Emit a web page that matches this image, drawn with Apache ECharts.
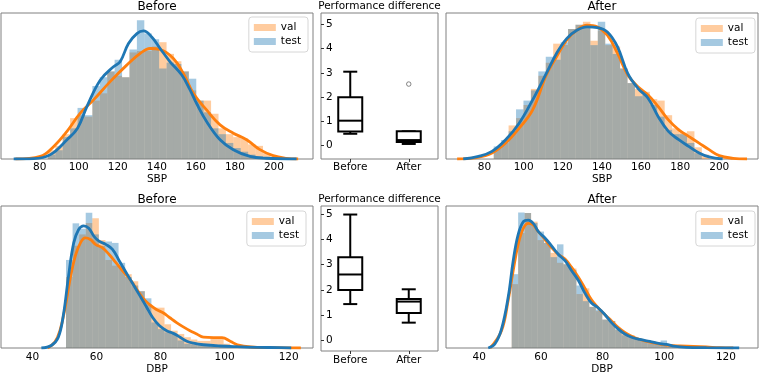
<!DOCTYPE html>
<html>
<head>
<meta charset="utf-8">
<script src="https://cdn.jsdelivr.net/npm/echarts/dist/echarts.min.js"></script>
<style>
  html, body { margin: 0; padding: 0; background: #fff; }
  #main { width: 760px; height: 376px; }
</style>
</head>
<body>
<div id="main"></div>
<script>
// histogram bins: start, width, heights (relative density, 100 = top of the frame)
const sbpBeforeBin = [84.2, 3.8];
const sbpBeforeVal = [6, 9, 17, 28, 30, 29, 40, 45, 60, 57, 56, 73, 74, 74, 77, 80, 72, 67, 60, 47, 40, 40, 31, 21, 17, 15, 14, 10, 9, 4];
const sbpBeforeTest = [3, 6, 15, 21, 35, 30, 50, 56, 60, 68, 56, 75, 95, 86, 82, 62, 66, 65, 60, 55, 40, 32, 21, 17, 11, 7.5, 5, 3, 2, 0];
const sbpBeforeValKde = [[67.6,0],[80.3,1.8],[87.2,8.6],[94,18.9],[100.8,31.4],[107.6,40.5],[116.1,53],[124.6,64.3],[131.5,72.3],[136.6,75.7],[141.7,75],[148.5,68.9],[153.6,58.6],[158.7,45],[165.5,33.6],[172.4,23.4],[179.2,17.7],[186,13.2],[192.8,6.4],[199.6,2.3],[206.4,0.5],[212.4,0]];
const sbpBeforeTestKde = [[66.7,0],[76.9,0.2],[85.5,3],[94,13.2],[99.4,21.1],[104.2,35.9],[111,54],[117.8,63.2],[121.2,66.6],[125.5,79.1],[129.8,85.9],[133.2,87.7],[137.4,83.6],[141.7,75.7],[146.8,66.6],[152.8,57.5],[156.9,47.7],[160.4,38],[165.5,25.7],[172.4,13.2],[179.2,6.4],[187.7,1.8],[196.2,0.5],[211.6,0]];

const sbpAfterBin = [84.7, 3.8];
const sbpAfterVal = [7, 11, 23, 28, 37, 48, 57, 66, 79, 78, 89, 92, 94, 81, 88, 78, 77, 62, 52, 48, 46, 41, 40, 30, 21, 18, 19, 8, 3];
const sbpAfterTest = [8.6, 13, 19, 34, 40, 47, 60, 70, 68, 80, 89, 92, 91, 78, 94, 79, 72, 62, 52, 43, 44, 37, 29, 20, 17, 17, 11, 4, 0];
const sbpAfterValKde = [[66,0],[76,1],[83.8,4.1],[90.8,10.9],[97.7,21.1],[104.6,33.6],[111.6,57.5],[116.8,70],[122,81.4],[127.2,88.2],[132.4,91.6],[137.6,90.5],[142.8,84.8],[148,72.3],[153.2,57.5],[158.4,49.5],[163.6,43.9],[168.8,35.9],[174,26.8],[179.3,20],[184.4,15.5],[189.7,10.9],[194.8,6.4],[200,2.3],[207,0.5],[214.2,0]];
const sbpAfterTestKde = [[69.1,0],[76.9,1.8],[83.8,5.2],[90.8,13.2],[97.7,24.5],[104.6,40.5],[111.6,58.6],[116.8,72.3],[122,82.5],[127.2,88.2],[132.4,90.5],[137.6,90],[142.8,87],[148,76.8],[153.2,58.6],[158.4,48.4],[163.6,41.6],[168.8,29],[174,18.9],[179.3,13.2],[184.4,8.6],[189.7,4.1],[194.8,1.4],[201.7,0]];

const dbpBeforeBin = [50.5, 2.05];
const dbpBeforeVal = [50, 72, 80, 88, 91.3, 76, 62, 58, 57, 52, 47, 40, 30.5, 28.4, 28.4, 16.7, 12.2, 9.9, 7.6, 6, 5, 5, 7, 7.5, 3, 1.5, 0.5];
const dbpBeforeTest = [62, 87.8, 84, 95.2, 80, 72, 75, 74, 60, 50, 44, 40, 35, 18, 13.3, 11, 9.9, 5.3, 3, 2.5, 2, 1.5, 1, 1, 0.8, 0.5, 0.3];
const dbpBeforeValKde = [[44.8,0],[47,4.1],[48.6,12.2],[50.2,28.2],[51.8,48.9],[53.4,64.9],[55,74],[56.5,77.5],[58.1,76.4],[59.7,73],[61.8,70.6],[63.9,66],[66,60.3],[68.1,54.6],[70.3,48.9],[72.4,42],[74.5,35.1],[76.6,30.5],[78.7,27.1],[80.8,24.8],[82.9,21.3],[85,17.9],[87.1,14.9],[89.2,12.2],[91.3,9.9],[93.4,7.6],[96.6,7.3],[99.2,7.3],[101.9,4.6],[104,2.3],[108.2,0.7],[114.5,0.2],[123.8,0]];
const dbpBeforeTestKde = [[42.8,0],[45.9,1.8],[48.1,7.6],[49.7,23.6],[51.3,51],[52.9,74],[54.4,83.3],[56,86],[57.6,84.4],[59.2,78.7],[60.8,75.2],[62.9,73],[65,69.5],[67.1,61.5],[69.2,53.4],[71.3,45.4],[73.4,37.4],[75.5,29.4],[77.6,21.3],[79.7,15.6],[81.9,12.2],[84,10.3],[86.1,7.6],[88.2,4.8],[90.3,3.4],[93.4,2.3],[98.7,1.4],[104,0.9],[110,0.5],[117.7,0.2],[120.8,0]];

const dbpAfterBin = [50.5, 2.1];
const dbpAfterVal = [45, 81, 95, 89, 76, 74, 67, 60, 59, 56, 38, 42, 29, 26, 20, 19, 13, 10, 9, 6.4, 5.3, 3.4, 3, 2.5, 1.5, 1.2, 1, 1, 0.8, 0.5, 0.3];
const dbpAfterTest = [52, 95.4, 95, 88, 82, 74, 64, 73, 59, 55, 44, 33, 29, 27, 20, 19, 13, 9, 8, 6.4, 5, 3.4, 3, 5.3, 1, 0.5, 0.4, 0.3, 0.3, 0, 0];
const dbpAfterValKde = [[43.5,0],[47.2,12.2],[49.4,34],[51,54.6],[52.6,72.9],[54.3,84.4],[55.9,87.8],[57.5,86.7],[59.1,82.1],[61.3,76.4],[63.5,70.6],[65.6,66],[67.8,62.6],[69.9,56.9],[72.1,50],[74.3,42],[76.4,33.9],[78.6,28.2],[80.7,23.6],[82.9,19],[85.1,14.4],[87.2,11],[89.4,8.3],[92.1,6],[95.3,4.1],[98.6,2.8],[101.8,1.8],[105.1,1.4],[109.4,1.1],[113.7,0.7],[118,0.2],[122.4,0]];
const dbpAfterTestKde = [[42.9,0],[45.1,3],[47.2,13.3],[49.4,36.2],[51,61.5],[52.6,79.8],[54.3,89],[55.9,90.1],[57.5,87.8],[59.1,82.1],[61.3,77.5],[63.5,71.8],[65.6,66],[67.8,61.5],[69.9,54.6],[72.1,47.7],[74.3,38.5],[76.4,31.7],[78.6,28.2],[80.7,23.6],[82.9,17.9],[85.1,13.3],[87.2,9.9],[89.4,7.6],[92.1,6],[95.3,4.6],[98.6,3],[100.7,2.5],[102.9,1.4],[107.2,0.5],[113.7,0.2],[124.3,0]];

// performance difference boxplots: [low, q1, median, q3, high]
const boxCategories = ["Before", "After"];
const sbpBoxBefore = [0.49, 0.58, 1.03, 2.0, 3.05];
const sbpBoxAfter = [0.07, 0.15, 0.23, 0.59, 0.59];
const sbpOutliers = [[1, 2.54]];
const dbpBoxBefore = [1.43, 1.99, 2.61, 3.30, 5.0];
const dbpBoxAfter = [0.69, 1.07, 1.53, 1.63, 2.02];
const dbpOutliers = [];

const ORANGE = "#ff7f0e", BLUE = "#1f77b4";
const FONT = "DejaVu Sans";

const chart = echarts.init(document.getElementById("main"));

function binsData(bin, heights) {
  const out = [];
  heights.forEach((h, i) => {
    if (h > 0) out.push([bin[0] + i * bin[1], bin[0] + (i + 1) * bin[1], h]);
  });
  return out;
}

function renderBin(params, api) {
  const p0 = api.coord([api.value(0), 0]);
  const p1 = api.coord([api.value(1), api.value(2)]);
  return {
    type: "rect",
    shape: { x: p0[0], y: p1[1], width: p1[0] - p0[0], height: p0[1] - p1[1] },
    style: { fill: api.visual("color") },
  };
}

function renderBox(params, api) {
  const x = api.coord([api.value(0), 0])[0];
  const y = (k) => api.coord([api.value(0), api.value(k)])[1];
  const lo = y(1), q1 = y(2), md = y(3), q3 = y(4), hi = y(5);
  const hw = 12, cw = 7;
  const st = { stroke: "#000", lineWidth: 2, fill: null };
  return {
    type: "group",
    children: [
      { type: "line", shape: { x1: x, y1: lo, x2: x, y2: q1 }, style: st },
      { type: "line", shape: { x1: x, y1: q3, x2: x, y2: hi }, style: st },
      { type: "line", shape: { x1: x - cw, y1: lo, x2: x + cw, y2: lo }, style: st },
      { type: "line", shape: { x1: x - cw, y1: hi, x2: x + cw, y2: hi }, style: st },
      { type: "rect", shape: { x: x - hw, y: q3, width: 2 * hw, height: q1 - q3 }, style: { stroke: "#000", lineWidth: 2, fill: "#fff" } },
      { type: "line", shape: { x1: x - hw, y1: md, x2: x + hw, y2: md }, style: st },
    ],
  };
}

const grids = [
  { left: 1, top: 13, width: 312, height: 146 },
  { left: 321, top: 13, width: 117, height: 146 },
  { left: 446, top: 13, width: 312, height: 146 },
  { left: 1, top: 206, width: 312, height: 145 },
  { left: 321, top: 206, width: 117, height: 145 },
  { left: 446, top: 206, width: 312, height: 145 },
].map((g) => Object.assign({ show: true, borderColor: "#808080", borderWidth: 1, backgroundColor: "transparent" }, g));

function histX(grid, min, max, name, split, margin, gap) {
  return {
    type: "value", gridIndex: grid, min: min, max: max, splitNumber: split,
    name: name, nameLocation: "middle", nameGap: gap,
    nameTextStyle: { fontSize: 10.5, color: "#000", fontFamily: FONT },
    axisLine: { show: false, onZero: false }, axisTick: { show: false }, splitLine: { show: false },
    axisLabel: { fontSize: 10.5, color: "#000", margin: margin, showMinLabel: false, showMaxLabel: false, fontFamily: FONT },
  };
}
function boxX(grid, margin) {
  return {
    type: "category", gridIndex: grid, data: boxCategories,
    axisLine: { show: false, onZero: false }, splitLine: { show: false },
    axisTick: { show: true, alignWithLabel: true, length: 3, lineStyle: { color: "#333" } },
    axisLabel: { fontSize: 10.5, color: "#000", margin: margin, fontFamily: FONT },
  };
}
function histY(grid) {
  return { type: "value", gridIndex: grid, min: 0, max: 100, show: false, splitLine: { show: false } };
}
function boxY(grid, min, max) {
  return {
    type: "value", gridIndex: grid, min: min, max: max, splitNumber: 6,
    axisLine: { show: false, onZero: false }, splitLine: { show: false },
    axisTick: { show: true, inside: true, length: 3, lineStyle: { color: "#333" } },
    axisLabel: { inside: true, margin: 5, fontSize: 10.5, color: "#000", showMinLabel: false, showMaxLabel: false, fontFamily: FONT },
  };
}

function histSeries(grid, bin, val, test, valKde, testKde) {
  const base = { xAxisIndex: grid, yAxisIndex: grid, silent: true };
  return [
    Object.assign({ type: "custom", name: "val", renderItem: renderBin, encode: { x: [0, 1], y: 2 },
      itemStyle: { color: "rgba(255,127,14,0.4)" }, data: binsData(bin, val) }, base),
    Object.assign({ type: "custom", name: "test", renderItem: renderBin, encode: { x: [0, 1], y: 2 },
      itemStyle: { color: "rgba(31,119,180,0.4)" }, data: binsData(bin, test) }, base),
    Object.assign({ type: "line", name: "val kde", data: valKde, smooth: 0.4, showSymbol: false,
      lineStyle: { color: ORANGE, width: 2.8 }, itemStyle: { color: ORANGE } }, base),
    Object.assign({ type: "line", name: "test kde", data: testKde, smooth: 0.4, showSymbol: false,
      lineStyle: { color: BLUE, width: 2.8 }, itemStyle: { color: BLUE } }, base),
  ];
}

function boxSeries(grid, before, after, outliers) {
  return [
    { type: "custom", name: "box", xAxisIndex: grid, yAxisIndex: grid, silent: true, renderItem: renderBox,
      encode: { x: 0, y: [1, 2, 3, 4, 5] }, data: [[0].concat(before), [1].concat(after)] },
    { type: "scatter", name: "outlier", xAxisIndex: grid, yAxisIndex: grid, silent: true, symbol: "circle", symbolSize: 4.5,
      itemStyle: { color: "#fff", borderColor: "#444", borderWidth: 0.8 }, data: outliers },
  ];
}

function legendAt(right, top) {
  return {
    right: right, top: top, orient: "vertical", selectedMode: false,
    icon: "rect", itemWidth: 22, itemHeight: 7, itemGap: 3,
    padding: [5, 7, 5, 5], borderColor: "#d6d6d6", borderWidth: 1, borderRadius: 3,
    backgroundColor: "rgba(255,255,255,0.8)",
    textStyle: { fontSize: 10.5, color: "#000", fontFamily: FONT },
    data: ["val", "test"],
  };
}

function titleAt(text, x, y, size) {
  return { text: text, left: x, top: y, textAlign: "center", padding: 0,
    textStyle: { fontSize: size, fontWeight: "normal", color: "#000", fontFamily: FONT } };
}

const option = {
  animation: false,
  textStyle: { fontFamily: FONT },
  title: [
    titleAt("Before", 157, 1, 12),
    titleAt("Performance difference", 379.5, 1, 10.5),
    titleAt("After", 602, 1, 12),
    titleAt("Before", 157, 193.5, 12),
    titleAt("Performance difference", 379.5, 194, 10.5),
    titleAt("After", 602, 193.5, 12),
  ],
  legend: [legendAt(452, 17), legendAt(5, 18), legendAt(454, 211), legendAt(5, 211)],
  grid: grids,
  xAxis: [
    histX(0, 60.2, 220, "SBP", 8, 3, 15),
    boxX(1, 3),
    histX(2, 60.3, 219.8, "SBP", 8, 3, 15),
    histX(3, 30.2, 127.6, "DBP", 5, 4, 16),
    boxX(4, 4),
    histX(5, 29.2, 130.4, "DBP", 5, 4, 16),
  ],
  yAxis: [
    histY(0),
    boxY(1, -0.55, 5.47),
    histY(2),
    histY(3),
    boxY(4, -0.44, 5.34),
    histY(5),
  ],
  series: [].concat(
    histSeries(0, sbpBeforeBin, sbpBeforeVal, sbpBeforeTest, sbpBeforeValKde, sbpBeforeTestKde),
    boxSeries(1, sbpBoxBefore, sbpBoxAfter, sbpOutliers),
    histSeries(2, sbpAfterBin, sbpAfterVal, sbpAfterTest, sbpAfterValKde, sbpAfterTestKde),
    histSeries(3, dbpBeforeBin, dbpBeforeVal, dbpBeforeTest, dbpBeforeValKde, dbpBeforeTestKde),
    boxSeries(4, dbpBoxBefore, dbpBoxAfter, dbpOutliers),
    histSeries(5, dbpAfterBin, dbpAfterVal, dbpAfterTest, dbpAfterValKde, dbpAfterTestKde)
  ),
};

chart.setOption(option);
window.addEventListener("resize", () => chart.resize());
</script>
</body>
</html>
